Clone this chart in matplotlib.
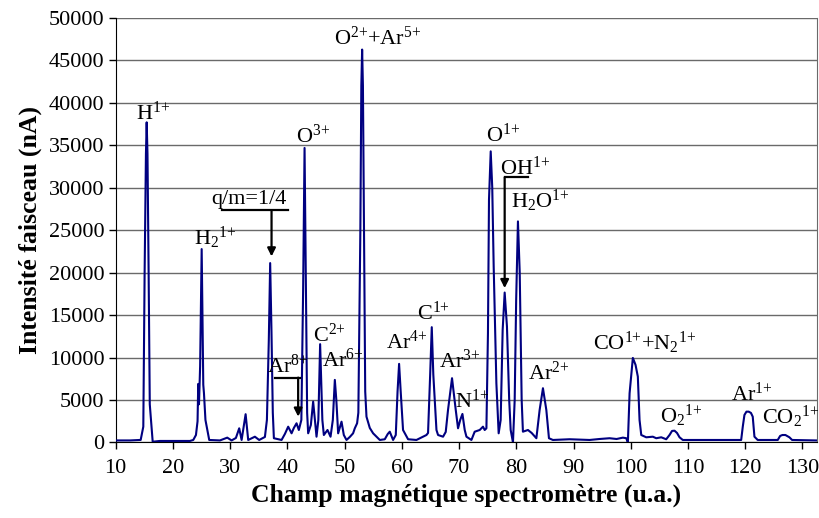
import matplotlib
matplotlib.use("Agg")
import matplotlib.pyplot as plt

# ---------- data ----------
field = [10.0, 12.5, 14.36, 14.82, 15.05, 15.28, 15.41, 15.55, 15.75, 15.95, 16.46, 17.73, 22.97,
         23.55, 24.02, 24.30, 24.42, 24.55, 24.75, 25.02, 25.18, 25.30, 25.42, 25.68, 26.34,
         28.21, 29.49, 30.25, 31.0, 31.58, 32.0, 32.40, 32.70, 33.15, 34.32,
         35.07, 36.07, 36.42, 36.75, 36.99, 37.22, 37.45, 37.64, 38.98, 39.56, 40.14, 40.73,
         41.13, 41.60, 42.0, 42.44, 42.75, 43.0, 43.25, 43.45, 43.63, 44.10, 44.50, 45.09,
         45.41, 45.72, 46.11, 46.37, 47.01, 47.54, 47.94, 48.29, 48.55, 48.87,
         49.46, 49.86, 50.33, 50.91, 51.48, 51.78, 52.18, 52.40, 52.75, 52.92, 53.06, 53.20,
         53.38, 53.60, 53.82, 54.40, 54.98, 56.15, 57.02, 57.54, 57.89, 58.47, 58.94, 59.25,
         59.52, 59.80, 60.21, 61.09, 62.55, 64.30, 64.58, 64.95, 65.23, 65.50,
         66.05, 66.33, 67.20, 67.67, 68.07, 68.77, 69.42, 69.82, 70.20, 70.59,
         70.99, 71.29, 72.16, 72.73, 73.61, 74.18, 74.48, 74.78, 75.05, 75.23,
         75.53, 75.80, 76.05, 76.52, 76.92, 77.27, 77.62, 77.97, 78.37, 78.76, 79.02,
         79.42, 79.72, 79.98, 80.29, 80.60, 80.94, 81.16, 82.04, 82.69, 83.51,
         84.08, 84.66, 85.25, 85.71, 86.40, 89.32, 92.81, 94.55, 96.30, 97.53,
         98.63, 99.22, 99.50, 99.80, 100.37, 100.84, 101.24, 101.54, 101.84,
         102.71, 103.86, 104.46, 105.33, 106.20, 106.78, 107.22, 107.65, 108.09,
         108.53, 109.10, 115.5, 119.30, 119.58, 119.87, 120.22, 120.62, 121.01,
         121.32, 121.62, 122.19, 125.69, 126.11, 126.51, 127.03, 127.73, 128.20,
         132.39]
intensity = [240, 240, 300, 1860, 20000, 34000, 37710, 34000, 20000, 4500, 90, 180, 180,
             295, 880, 2500, 6900, 4500, 9000, 22780, 14000, 6800, 5800, 2650, 295,
             240, 570, 240, 530, 1670, 295, 2060, 3330, 295, 680,
             295, 650, 2650, 12000, 21130, 13000, 3500, 500, 295, 1000, 1860, 1080,
             1710, 2260, 1470, 2650, 18000, 34690, 18000, 3500, 1080, 2060, 4810, 680,
             2650, 11580, 2650, 880, 1470, 680, 2650, 7370, 5010, 1080,
             2450, 880, 295, 650, 1080, 1670, 2260, 3500, 25000, 42000, 46280, 42000,
             25000, 6000, 3040, 1710, 1080, 295, 380, 1000, 1270, 295, 880, 6000,
             9260, 6000, 1470, 380, 295, 880, 1120, 8000, 13580, 8000,
             1470, 880, 680, 1240, 3830, 7570, 3830, 1670, 2650, 3360,
             1470, 680, 295, 1270, 1470, 1860, 1470, 1670, 12910, 28600,
             34290, 30000, 20730, 6980, 1080, 2650, 13270, 17660, 13660, 5010, 1470,
             0, 5010, 16800, 26040, 20000, 5010, 1270, 1470, 1120, 500,
             3830, 6390, 3830, 500, 295, 380, 295, 410, 500, 410,
             570, 500, 0, 5800, 9960, 9140, 7760, 2650, 880,
             610, 680, 500, 610, 380, 880, 1360, 1390, 1120,
             610, 295, 295, 295, 1860, 3240, 3630, 3630, 3480,
             3040, 680, 295, 295, 770, 880, 880, 610, 295,
             240]

# peak labels: text, x centre, baseline y
labels = [r"H$^\mathregular{1{+}}$",
          r"H$_\mathregular{2}$$^\mathregular{1{+}}$",
          r"q/m=1/4",
          r"O$^\mathregular{3{+}}$",
          r"C$^\mathregular{2{+}}$",
          r"Ar$^\mathregular{6{+}}$",
          r"Ar$^\mathregular{8{+}}$",
          r"O$^\mathregular{2{+}}$+Ar$^\mathregular{5{+}}$",
          r"C$^\mathregular{1{+}}$",
          r"Ar$^\mathregular{4{+}}$",
          r"Ar$^\mathregular{3{+}}$",
          r"N$^\mathregular{1{+}}$",
          r"O$^\mathregular{1{+}}$",
          r"OH$^\mathregular{1{+}}$",
          r"H$_\mathregular{2}$O$^\mathregular{1{+}}$",
          r"Ar$^\mathregular{2{+}}$",
          r"CO$^\mathregular{1{+}}$+N$_\mathregular{2}$$^\mathregular{1{+}}$",
          r"O$_\mathregular{2}$$^\mathregular{1{+}}$",
          r"Ar$^\mathregular{1{+}}$",
          r"CO$_\mathregular{2}$$^\mathregular{1{+}}$"]
label_x = [16.55, 27.4, 33.3, 44.5, 47.4, 49.6, 40.1, 55.7, 65.5, 60.8,
           70.1, 72.2, 77.6, 81.55, 84.2, 85.65, 102.4, 108.9, 121.1, 128.0]
label_y = [37950, 23290, 28120, 35320, 11850, 8900, 8190, 46870, 14440, 11030,
           8780, 4070, 35430, 31540, 27650, 7370, 10910, 2330, 4890, 2180]

# bracket arrows: horizontal line (x0, x1, y), vertical arrow at xa down to ya
bracket_x0 = [28.55, 37.8, 77.97]
bracket_x1 = [40.08, 42.2, 82.04]
bracket_y = [27350, 7640, 31230]
arrow_x = [37.23, 41.88, 77.97]
arrow_to = [21910, 3040, 18180]

plt.rcParams["font.family"] = ["Liberation Serif", "DejaVu Serif"]
plt.rcParams["mathtext.fontset"] = "custom"
plt.rcParams["mathtext.rm"] = "Liberation Serif"
plt.rcParams["mathtext.it"] = "Liberation Serif:italic"
plt.rcParams["mathtext.bf"] = "Liberation Serif:bold"

fig = plt.figure(figsize=(8.19, 5.18), dpi=100)
ax = fig.add_axes([0.1413, 0.1458, 0.8559, 0.8195])

ax.plot(field, intensity, color="#000080", lw=1.5, zorder=3)

ax.set_xlim(10, 132.5)
ax.set_ylim(0, 50000)
ax.set_xticks(range(10, 131, 10))
ax.set_yticks(range(0, 50001, 5000))
ax.yaxis.grid(True, color="#6a6a6a", lw=1.0)
ax.set_axisbelow(True)
ax.tick_params(direction="out", length=5, width=1, labelsize=16)
ax.tick_params(axis="y", pad=3)
ax.tick_params(axis="x", pad=7)
ax.spines["top"].set_visible(False)
ax.spines["right"].set_color("#6a6a6a")

ax.set_xlabel("Champ magnétique spectromètre (u.a.)", fontsize=18.5,
              fontweight="bold", labelpad=4)
ax.set_ylabel("Intensité faisceau (nA)", fontsize=18.5, fontweight="bold",
              labelpad=5)

for t, x, y in zip(labels, label_x, label_y):
    ax.text(x, y, t, fontsize=16, ha="center", va="baseline", zorder=4)

for x0, x1, y, xa, ya in zip(bracket_x0, bracket_x1, bracket_y, arrow_x, arrow_to):
    ax.plot([x0, x1], [y, y], color="black", lw=1.6, zorder=4)
    ax.annotate("", xy=(xa, ya), xytext=(xa, y),
                arrowprops=dict(arrowstyle="-|>", color="black", lw=1.6,
                                mutation_scale=12, shrinkA=0, shrinkB=0),
                zorder=4)

fig.savefig("out.png", dpi=100)
